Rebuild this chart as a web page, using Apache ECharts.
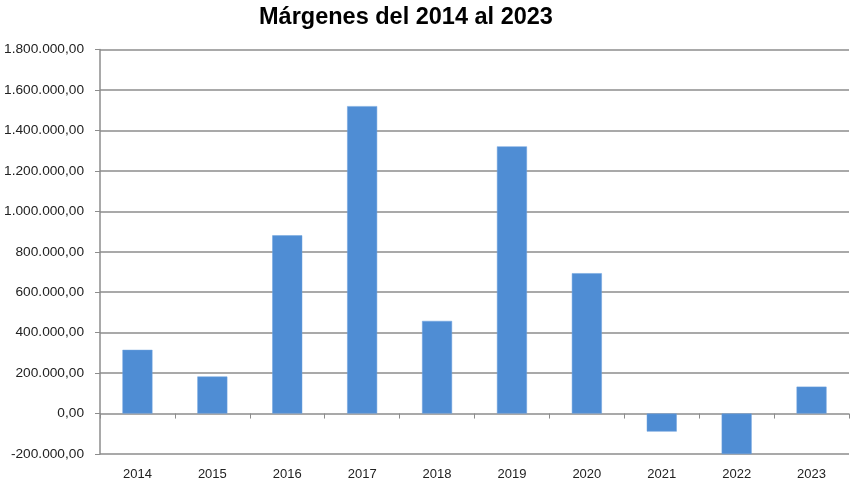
<!DOCTYPE html>
<html><head><meta charset="utf-8">
<script src="https://cdn.jsdelivr.net/npm/echarts@6/dist/echarts.min.js"></script>
<style>html,body{margin:0;padding:0;background:#fff}#c{width:850px;height:484px}</style>
</head><body><div id="c"></div>
<script>
const titleText = "Márgenes del 2014 al 2023";
const categories = ["2014","2015","2016","2017","2018","2019","2020","2021","2022","2023"];
const margins = [315000, 183000, 881000, 1520000, 458000, 1321000, 694000, -89000, -200000, 133000];
const yMin = -200000, yMax = 1800000, yStep = 200000;

function fmt(v){
  const neg = v < 0; v = Math.abs(Math.round(v));
  const s = String(v).replace(/\B(?=(\d{3})+(?!\d))/g, ".");
  return (neg ? "-" : "") + s + ",00";
}
const chart = echarts.init(document.getElementById('c'), null, {renderer:'canvas'});
chart.setOption({
  animation:false,
  backgroundColor:'#fff',
  graphic:[{type:'text',left:259,top:6,style:{text:titleText,font:'bold 23.5px "Liberation Sans"',fill:'#000'}}],
  grid:{left:100,right:1,top:49.5,bottom:30,containLabel:false},
  xAxis:{type:'category',data:categories,
    axisLine:{show:false},
    axisTick:{show:true,length:5,alignWithLabel:false,lineStyle:{color:'#8c8c8c'}},
    axisLabel:{fontFamily:'Liberation Sans',fontSize:13,color:'#222',margin:14}},
  yAxis:{type:'value',min:yMin,max:yMax,interval:yStep,
    axisLine:{show:true,lineStyle:{color:'#8c8c8c',width:1.5}},
    axisTick:{show:true,length:5,lineStyle:{color:'#8c8c8c'}},
    splitLine:{show:true,lineStyle:{color:'#8c8c8c',width:1.5}},
    axisLabel:{fontFamily:'Liberation Sans',fontSize:13.7,color:'#222',margin:16,formatter:fmt}},
  series:[{type:'bar',data:margins,barWidth:30,itemStyle:{color:'#4F8DD4',borderColor:'#6fa3de',borderWidth:0.5}}]
});
</script></body></html>
